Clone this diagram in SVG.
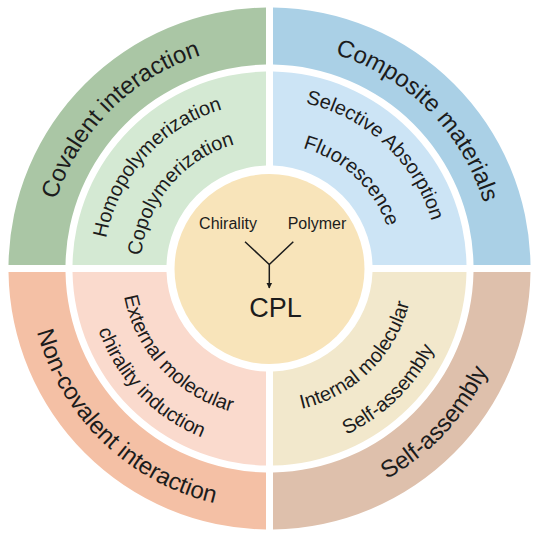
<svg xmlns="http://www.w3.org/2000/svg" width="537" height="535" viewBox="0 0 537 535">
<style>
text{font-family:"Liberation Sans",Arial,sans-serif;fill:#1c1c1c}
.outer{font-size:24px}
.mid{font-size:20px}
.ctr{font-size:16px}
.conn{stroke:#1c1c1c;stroke-width:1.5;fill:none}
</style>
<defs>
<path id="cw224" d="M 46.353 248.976 A 224 224 0 0 1 492.647 248.976"/>
<path id="ccw241" d="M 29.418 289.506 A 241 241 0 0 0 509.582 289.506"/>
<path id="cw166" d="M 104.132 254.031 A 166 166 0 0 1 434.868 254.031"/>
<path id="cw129" d="M 140.991 257.256 A 129 129 0 0 1 398.009 257.256"/>
<path id="cw169" d="M 101.144 253.770 A 169 169 0 0 1 437.856 253.770"/>
<path id="cw125" d="M 144.976 257.605 A 125 125 0 0 1 394.024 257.605"/>
<path id="ccw148" d="M 122.064 281.400 A 148 148 0 0 0 416.936 281.400"/>
<path id="ccw182" d="M 88.193 284.363 A 182 182 0 0 0 450.807 284.363"/>
<path id="ccw144" d="M 126.049 281.051 A 144 144 0 0 0 412.951 281.051"/>
<path id="ccw183" d="M 87.197 284.450 A 183 183 0 0 0 451.803 284.450"/>
<marker id="arr" viewBox="0 0 10 10" refX="9" refY="5" markerWidth="4" markerHeight="5" orient="auto" markerUnits="strokeWidth">
<path d="M0 0 L10 5 L0 10 Z" fill="#1c1c1c"/>
</marker>
</defs>
<rect width="537" height="535" fill="#ffffff"/>

<g id="covalent-interaction">
<path d="M 8.5 265 A 261 261 0 0 1 266 7.5 L 266 64.5 A 204 204 0 0 0 65.5 265 Z" fill="#aac6a5"/>
<text class="outer" transform="rotate(-45 269.5 268.5)"><textPath href="#cw224" startOffset="50%" text-anchor="middle">Covalent interaction</textPath></text>
</g>
<g id="covalent-methods">
<path d="M 72.5 265 A 197 197 0 0 1 266 71.5 L 266 165.5 A 103 103 0 0 0 166.5 265 Z" fill="#d4e9d3"/>
<text class="mid" transform="rotate(-48 269.5 268.5)"><textPath href="#cw166" startOffset="50%" text-anchor="middle">Homopolymerization</textPath></text>
<text class="mid" transform="rotate(-50 269.5 268.5)"><textPath href="#cw129" startOffset="50%" text-anchor="middle">Copolymerization</textPath></text>
</g>

<g id="composite-materials">
<path d="M 273 7.5 A 261 261 0 0 1 530.5 265 L 473.5 265 A 204 204 0 0 0 273 64.5 Z" fill="#aad0e6"/>
<text class="outer" transform="rotate(45 269.5 268.5)"><textPath href="#cw224" startOffset="50%" text-anchor="middle">Composite materials</textPath></text>
</g>
<g id="composite-methods">
<path d="M 273 71.5 A 197 197 0 0 1 466.5 265 L 372.5 265 A 103 103 0 0 0 273 165.5 Z" fill="#cce4f5"/>
<text class="mid" transform="rotate(43 269.5 268.5)"><textPath href="#cw169" startOffset="50%" text-anchor="middle">Selective Absorption</textPath></text>
<text class="mid" transform="rotate(43 269.5 268.5)"><textPath href="#cw125" startOffset="50%" text-anchor="middle">Fluorescence</textPath></text>
</g>

<g id="self-assembly">
<path d="M 530.5 272 A 261 261 0 0 1 273 529.5 L 273 472.5 A 204 204 0 0 0 473.5 272 Z" fill="#dec0ac"/>
<text class="outer" transform="rotate(-47 269.5 268.5)"><textPath href="#ccw241" startOffset="50%" text-anchor="middle">Self-assembly</textPath></text>
</g>
<g id="self-assembly-methods">
<path d="M 466.5 272 A 197 197 0 0 1 273 465.5 L 273 371.5 A 103 103 0 0 0 372.5 272 Z" fill="#f2e8cc"/>
<text class="mid" transform="rotate(-44.5 269.5 268.5)"><textPath href="#ccw144" startOffset="50%" text-anchor="middle">Internal molecular</textPath></text>
<text class="mid" transform="rotate(-44.5 269.5 268.5)"><textPath href="#ccw183" startOffset="50%" text-anchor="middle">Self-assembly</textPath></text>
</g>

<g id="non-covalent-interaction">
<path d="M 266 529.5 A 261 261 0 0 1 8.5 272 L 65.5 272 A 204 204 0 0 0 266 472.5 Z" fill="#f4c0a5"/>
<text class="outer" transform="rotate(44 269.5 268.5)"><textPath href="#ccw241" startOffset="50%" text-anchor="middle">Non-covalent interaction</textPath></text>
</g>
<g id="non-covalent-methods">
<path d="M 266 465.5 A 197 197 0 0 1 72.5 272 L 166.5 272 A 103 103 0 0 0 266 371.5 Z" fill="#fadacd"/>
<text class="mid" transform="rotate(47 269.5 268.5)"><textPath href="#ccw148" startOffset="50%" text-anchor="middle">External molecular</textPath></text>
<text class="mid" transform="rotate(46 269.5 268.5)"><textPath href="#ccw182" startOffset="50%" text-anchor="middle">chirality induction</textPath></text>
</g>

<g id="center">
<circle cx="269.5" cy="269" r="95" fill="#f8e4ba"/>
</g>
<g id="chirality"><text class="ctr" x="228" y="229.3" text-anchor="middle">Chirality</text></g>
<g id="polymer"><text class="ctr" x="317" y="229.3" text-anchor="middle">Polymer</text></g>
<g id="cpl"><text x="275.5" y="317.3" text-anchor="middle" style="font-size:27px">CPL</text></g>

<g id="connectors">
<path class="conn" d="M 245 241.7 L 269.3 264.5 L 293.3 241.7"/>
<path class="conn" d="M 269.3 264.5 L 269.3 288" marker-end="url(#arr)"/>
</g>
</svg>
